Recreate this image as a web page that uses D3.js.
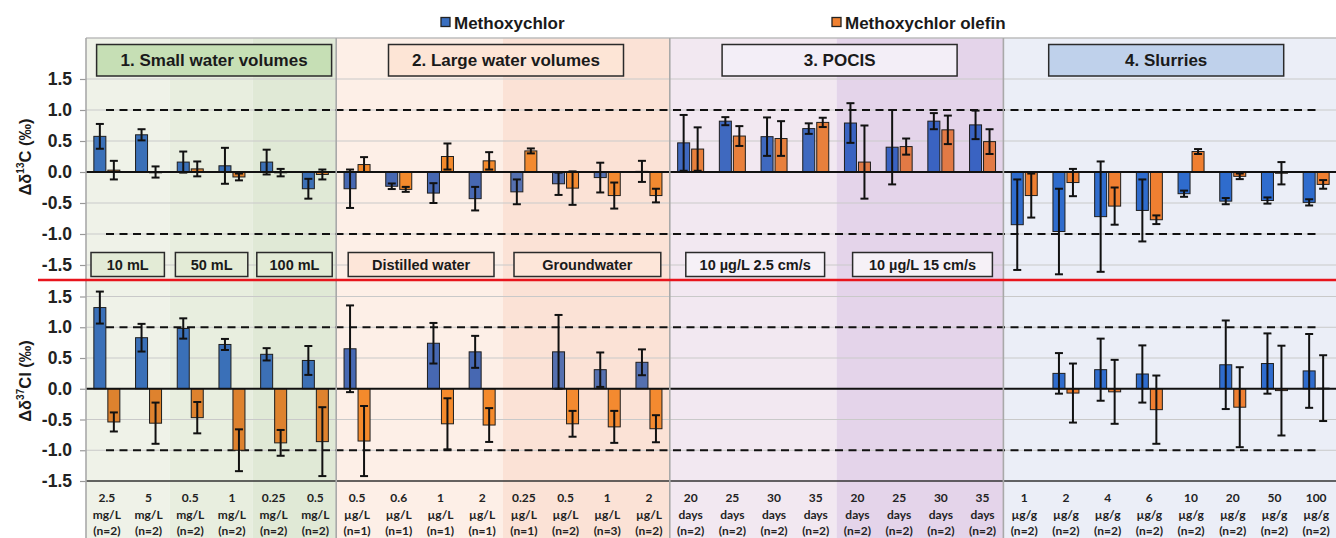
<!DOCTYPE html>
<html><head><meta charset="utf-8">
<script src="https://cdn.jsdelivr.net/npm/d3@7"></script>
<style>
html,body{margin:0;padding:0;background:#fff;}
svg{display:block;font-family:"Liberation Sans",Arial,sans-serif;}
</style></head>
<body>
<svg id="chart" width="1336" height="538"></svg>
<script>
// ---------- data ----------
const catLine1 = ["2.5","5","0.5","1","0.25","0.5","0.5","0.6","1","2","0.25","0.5","1","2","20","25","30","35","20","25","30","35","1","2","4","6","10","20","50","100"];
const catLine2 = ["mg/L","mg/L","mg/L","mg/L","mg/L","mg/L","µg/L","µg/L","µg/L","µg/L","µg/L","µg/L","µg/L","µg/L","days","days","days","days","days","days","days","days","µg/g","µg/g","µg/g","µg/g","µg/g","µg/g","µg/g","µg/g"];
const catLine3 = ["(n=2)","(n=2)","(n=2)","(n=2)","(n=2)","(n=2)","(n=1)","(n=1)","(n=1)","(n=1)","(n=1)","(n=2)","(n=3)","(n=2)","(n=2)","(n=2)","(n=2)","(n=2)","(n=2)","(n=2)","(n=2)","(n=2)","(n=2)","(n=2)","(n=2)","(n=2)","(n=2)","(n=2)","(n=2)","(n=2)"];

const seriesNames = ["Methoxychlor","Methoxychlor olefin"];

const c13Meth    = [0.575,0.60,0.16,0.10,0.16,-0.27, -0.27,-0.23,-0.34,-0.43,-0.32,-0.19,-0.09,0.01, 0.47,0.82,0.57,0.70,0.79,0.40,0.82,0.76, -0.85,-0.96,-0.72,-0.62,-0.35,-0.47,-0.46,-0.49];
const c13MethErr = [0.20,0.09,0.17,0.29,0.20,0.16, 0.31,0.045,0.16,0.19,0.20,0.18,0.24,0.17, 0.45,0.065,0.31,0.085,0.32,0.60,0.13,0.23, 0.73,0.69,0.89,0.50,0.05,0.05,0.05,0.05];
const c13Olef    = [0.03,0.0,0.05,-0.08,-0.01,-0.04, 0.12,-0.28,0.25,0.18,0.34,-0.26,-0.38,-0.38, 0.37,0.58,0.54,0.80,0.16,0.41,0.68,0.49, -0.38,-0.17,-0.55,-0.77,0.33,-0.07,-0.02,-0.20];
const c13OlefErr = [0.15,0.09,0.12,0.055,0.06,0.08, 0.12,0.04,0.21,0.14,0.04,0.27,0.21,0.11, 0.35,0.16,0.28,0.075,0.59,0.13,0.23,0.20, 0.355,0.22,0.30,0.07,0.04,0.045,0.18,0.07];

const cl37Meth    = [1.32,0.83,0.98,0.72,0.56,0.46, 0.65,null,0.74,0.60,null,0.60,0.31,0.43, null,null,null,null,null,null,null,null, null,0.25,0.31,0.24,null,0.39,0.41,0.29];
const cl37MethErr = [0.26,0.225,0.165,0.09,0.10,0.235, 0.705,null,0.33,0.26,null,0.60,0.28,0.21, null,null,null,null,null,null,null,null, null,0.33,0.505,0.465,null,0.72,0.49,0.60];
const cl37Olef    = [-0.54,-0.56,-0.47,-1.0,-0.88,-0.86, -0.85,null,-0.57,-0.59,null,-0.57,-0.62,-0.65, null,null,null,null,null,null,null,null, null,-0.07,-0.05,-0.34,null,-0.30,-0.03,0.01];
const cl37OlefErr = [0.155,0.335,0.255,0.34,0.21,0.56, 0.57,null,0.415,0.275,null,0.21,0.26,0.22, null,null,null,null,null,null,null,null, null,0.48,0.52,0.555,null,0.65,0.73,0.535];

const yTicks = [-1.5,-1.0,-0.5,0.0,0.5,1.0,1.5];

const sectionNames = ["1. Small water volumes","2. Large water volumes","3. POCIS","4. Slurries"];
const sectionStart = [0,6,14,22];
const sectionEnd   = [5,13,21,29];

const subNames = ["10 mL","50 mL","100 mL","Distilled water","Groundwater","10 µg/L 2.5 cm/s","10 µg/L 15 cm/s",""];
const subStart = [0,2,4,6,10,14,18,22];
const subEnd   = [1,3,5,9,13,17,21,29];

// ---------- styles ----------
const subBg     = ["#eff2e8","#e8eedf","#e0e9d6","#fdefe7","#fbe2d6","#f2e8f1","#e4d4ea","#ebeef7"];
const subBoxFill= ["#e3ebd6","#e3ebd6","#e3ebd6","#fde6d9","#fde6d9","#f6f1f7","#f6f1f7",null];
const subPadL   = [5,6,4,12,11,16,16,0];
const subPadR   = [5,5,4,9,9,12,11,0];
const subBlue   = ["#3a70b8","#3a70b8","#3c70b5","#4768b2","#5570b0","#3f69bf","#3a63c2","#2f6ccd"];
const subOrange = ["#de822e","#de822e","#de822e","#f48a2c","#f38a30","#e8803c","#e27a45","#ef7f31"];
const secFill   = ["#c6dfb5","#fde5d6","#f3eef7","#bfd1eb"];

const svg = d3.select("#chart");
const X0 = 86, X1 = 1337;
const x = d3.scaleBand().domain(d3.range(30)).range([X0, X1]).padding(0);
const bw = x.bandwidth();
const yTop = d3.scaleLinear().domain([-1.5,1.5]).range([265,79]);
const yBot = d3.scaleLinear().domain([-1.5,1.5]).range([481,296.5]);
const subOf = i => subStart.findIndex((s,k)=> i>=s && i<=subEnd[k]);

// backgrounds
svg.append("g").selectAll("rect").data(subStart).join("rect")
  .attr("x",(s)=>x(s)).attr("y",38)
  .attr("width",(s,k)=>x(subEnd[k])+bw-x(s)).attr("height",500)
  .attr("fill",(s,k)=>subBg[k]);

// plot top border
svg.append("line").attr("x1",X0).attr("x2",1336).attr("y1",38).attr("y2",38).attr("stroke","#bdbdbd").attr("stroke-width",1.5);

function panel(y, meth, methErr, olef, olefErr, isBottom){
  const g = svg.append("g");
  // grid
  g.selectAll("line.grid").data(yTicks.filter(t=>t!==0 && !(isBottom && t===-1.5)))
    .join("line").attr("x1",X0).attr("x2",1336).attr("y1",d=>y(d)).attr("y2",d=>y(d))
    .attr("stroke","#c9c9c9").attr("stroke-width",1.2);
  // dashed ±1
  g.selectAll("line.dash").data([-1,1]).join("line")
    .attr("x1",106).attr("x2",1318).attr("y1",d=>y(d)).attr("y2",d=>y(d))
    .attr("stroke","#111").attr("stroke-width",2).attr("stroke-dasharray","8,5.5");
  // bars
  const series = [
    {v:meth, e:methErr, dx:-13, col:subBlue},
    {v:olef, e:olefErr, dx:1, col:subOrange}
  ];
  series.forEach(s=>{
    const idx = d3.range(30).filter(i=>s.v[i]!==null);
    g.append("g").selectAll("rect").data(idx).join("rect")
      .attr("x",i=>x(i)+bw/2+s.dx).attr("width",12)
      .attr("y",i=>Math.min(y(s.v[i]),y(0))).attr("height",i=>Math.max(Math.abs(y(s.v[i])-y(0)),0.8))
      .attr("fill",i=>s.col[subOf(i)]).attr("stroke","#1e1e1e").attr("stroke-width",1);
  });
  // zero line
  g.append("line").attr("x1",X0).attr("x2",1336).attr("y1",y(0)).attr("y2",y(0)).attr("stroke","#111").attr("stroke-width",1.8);
  // error bars
  series.forEach(s=>{
    const idx = d3.range(30).filter(i=>s.v[i]!==null && s.e[i]!==null);
    const eg = g.append("g").attr("stroke","#111").attr("stroke-width",2);
    idx.forEach(i=>{
      const cx = x(i)+bw/2+s.dx+6;
      const hi = y(s.v[i]+s.e[i]), lo = y(s.v[i]-s.e[i]);
      eg.append("line").attr("x1",cx).attr("x2",cx).attr("y1",hi).attr("y2",lo);
      eg.append("line").attr("x1",cx-4).attr("x2",cx+4).attr("y1",hi).attr("y2",hi);
      eg.append("line").attr("x1",cx-4).attr("x2",cx+4).attr("y1",lo).attr("y2",lo);
    });
  });
  // y axis
  const ax = g.append("g").attr("transform",`translate(${X0},0)`)
    .call(d3.axisLeft(y).tickValues(yTicks).tickFormat(d3.format(".1f")).tickSize(6).tickPadding(8));
  ax.select(".domain").remove();
  ax.selectAll(".tick line").attr("stroke","#999").attr("stroke-width",1.2);
  ax.selectAll(".tick text").attr("font-size",17.5).attr("font-weight","bold").attr("fill","#222")
    .attr("font-family","Liberation Sans, Arial, sans-serif")
    .text(d=> d<0 ? "-"+d3.format(".1f")(-d) : d3.format(".1f")(d));
  if(isBottom){
    g.append("line").attr("x1",X0).attr("x2",1336).attr("y1",y(-1.5)).attr("y2",y(-1.5)).attr("stroke","#333").attr("stroke-width",1.6);
  }
}

panel(yTop, c13Meth, c13MethErr, c13Olef, c13OlefErr, false);
panel(yBot, cl37Meth, cl37MethErr, cl37Olef, cl37OlefErr, true);

// section vertical borders
svg.append("g").selectAll("line").data(sectionStart).join("line")
  .attr("x1",s=>x(s)).attr("x2",s=>x(s)).attr("y1",38).attr("y2",538)
  .attr("stroke","#a9a9a9").attr("stroke-width",1.6);

// section header boxes
const hg = svg.append("g");
sectionNames.forEach((nm,k)=>{
  const cx = (x(sectionStart[k]) + x(sectionEnd[k])+bw)/2 + (k===3? -4 : 3);
  hg.append("rect").attr("x",cx-117.5).attr("y",44.5).attr("width",235).attr("height",31.5)
    .attr("fill",secFill[k]).attr("stroke","#2a2a2a").attr("stroke-width",1.5);
  hg.append("text").attr("x",cx).attr("y",66).attr("text-anchor","middle")
    .attr("font-size",17).attr("font-weight","bold").attr("fill","#1a1a1a").text(nm);
});

// sub-group label boxes
const sg = svg.append("g");
subNames.forEach((nm,k)=>{
  if(!nm) return;
  const x0 = x(subStart[k]) + subPadL[k];
  const x1 = x(subEnd[k]) + bw - subPadR[k];
  sg.append("rect").attr("x",x0).attr("y",252.5).attr("width",x1-x0).attr("height",24)
    .attr("fill",subBoxFill[k]).attr("stroke","#2a2a2a").attr("stroke-width",1.5);
  sg.append("text").attr("x",(x0+x1)/2).attr("y",270).attr("text-anchor","middle")
    .attr("font-size",14.5).attr("font-weight","bold").attr("fill","#1a1a1a").text(nm);
});

// red separator
svg.append("line").attr("x1",38).attr("x2",1336).attr("y1",280).attr("y2",280).attr("stroke","#e8141c").attr("stroke-width",2.5);

// category labels
const cg = svg.append("g").attr("font-family","Lato, 'Open Sans', sans-serif").attr("font-weight","bold").attr("font-size",12).attr("fill","#222").attr("text-anchor","middle");
[catLine1,catLine2,catLine3].forEach((arr,li)=>{
  cg.append("g").selectAll("text").data(arr).join("text")
    .attr("x",(d,i)=>x(i)+bw/2).attr("y",502+li*16.5).text(d=>d);
});

// y titles
function yTitle(cy, iso, el){
  const t = svg.append("text").attr("transform",`translate(31,${cy}) rotate(-90)`)
    .attr("text-anchor","middle").attr("font-size",16.5).attr("font-weight","bold").attr("fill","#1a1a1a");
  t.append("tspan").text("Δδ");
  t.append("tspan").attr("font-size",10).attr("dy",-7).text(iso);
  t.append("tspan").attr("dy",7).text(el+" (‰)");
}
yTitle(157,"13","C");
yTitle(381,"37","Cl");

// legend
const lg = svg.append("g");
const legX = [441,832];
const legCol = ["#3a6fc0","#ef8030"];
seriesNames.forEach((nm,k)=>{
  lg.append("rect").attr("x",legX[k]).attr("y",17.5).attr("width",9).attr("height",9)
    .attr("fill",legCol[k]).attr("stroke","#222").attr("stroke-width",1.3);
  lg.append("text").attr("x",legX[k]+13).attr("y",29).attr("font-size",17).attr("font-weight","bold").attr("fill","#1a1a1a").text(nm);
});
</script>
</body></html>
